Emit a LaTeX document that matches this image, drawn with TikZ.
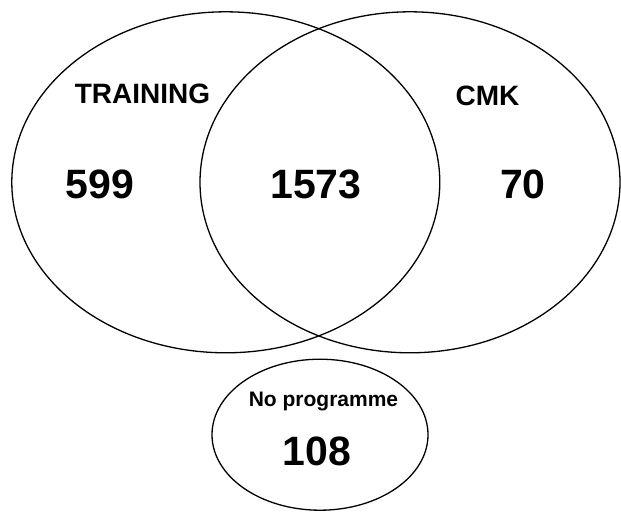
\documentclass[tikz,border=0pt]{standalone}
\usepackage{fontspec}
\setmainfont{Liberation Sans}
\usetikzlibrary{shapes.geometric}
\begin{document}
\begin{tikzpicture}[x=1pt,y=-1pt,
  setring/.style={draw=black,line width=1.3pt,ellipse,inner sep=0pt,fill=none},
  lbl/.style={anchor=base,inner sep=0pt,font=\bfseries\fontsize{28}{28}\selectfont},
  num/.style={anchor=base,inner sep=0pt,font=\bfseries\fontsize{41}{41}\selectfont},
  small/.style={anchor=base,inner sep=0pt,font=\bfseries\fontsize{21}{21}\selectfont}]
\useasboundingbox[fill=white] (0,0) rectangle (621,512);
\node[setring,minimum width=428pt,minimum height=341pt] (training) at (225.8,182.3) {};
\node[setring,minimum width=420pt,minimum height=341pt] (cmk) at (410,182.3) {};
\node[setring,minimum width=216pt,minimum height=151pt] (none) at (320,434.7) {};
\node[lbl] (tlabel) at (142.5,103) {TRAINING};
\node[lbl] (clabel) at (487.5,105) {CMK};
\node[num] (n599) at (100,198) {599};
\node[num] (n1573) at (316,198) {1573};
\node[num] (n70) at (523,198) {70};
\node[small] (nlabel) at (323.5,406.5) {No programme};
\node[num] (n108) at (317,465) {108};
\end{tikzpicture}
\end{document}
